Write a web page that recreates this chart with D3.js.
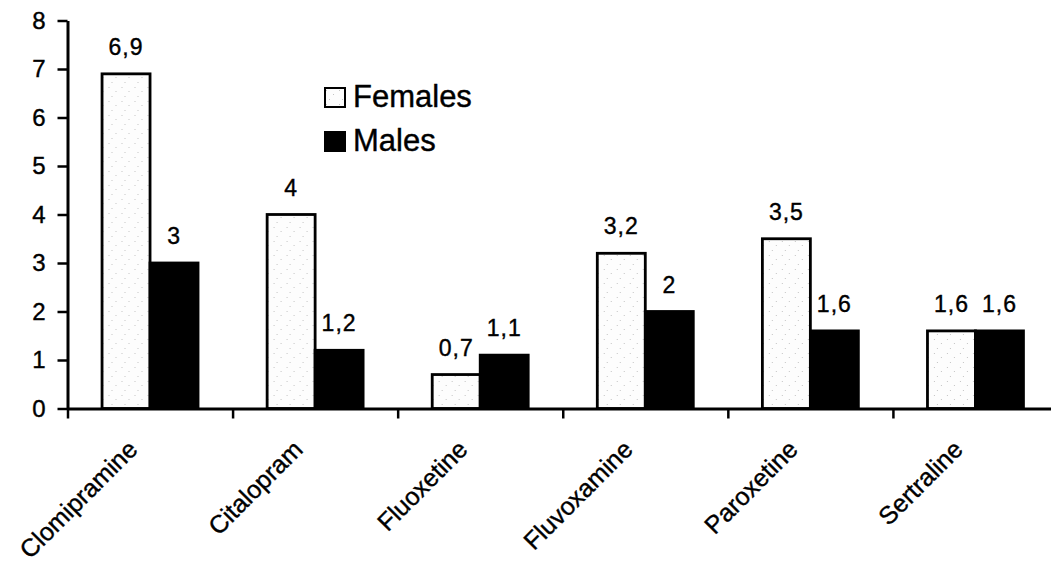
<!DOCTYPE html>
<html>
<head>
<meta charset="utf-8">
<script src="https://cdn.jsdelivr.net/npm/d3@7/dist/d3.min.js"></script>
<style>
  html, body { margin: 0; padding: 0; background: #fff; }
  svg { display: block; font-family: "Liberation Sans", Arial, sans-serif; }
  svg text { stroke: #000; stroke-width: 0.4px; }
</style>
</head>
<body>
<svg id="chart" width="1051" height="566"></svg>
<script>
// Drug names along the x axis
const drugs = ["Clomipramine", "Citalopram", "Fluoxetine", "Fluvoxamine", "Paroxetine", "Sertraline"];
// Series
const seriesNames = ["Females", "Males"];
const females = [6.9, 4, 0.7, 3.2, 3.5, 1.6];
const males   = [3, 1.2, 1.1, 2, 1.6, 1.6];
// Y axis ticks
const yTicks = [0, 1, 2, 3, 4, 5, 6, 7, 8];

const svg = d3.select("#chart");

// Light speckled fill used for the female bars
const defs = svg.append("defs");
const pat = defs.append("pattern")
  .attr("id", "speckle")
  .attr("patternUnits", "userSpaceOnUse")
  .attr("width", 13).attr("height", 14);
pat.append("rect").attr("width", 13).attr("height", 14).attr("fill", "#fdfdfd");
[[2, 3], [9, 7], [5, 12]].forEach(([cx, cy]) => {
  pat.append("rect").attr("x", cx).attr("y", cy).attr("width", 1).attr("height", 1)
    .attr("fill", "#c4c4c4");
});

const plotLeft = 67.5, plotRight = 1058, plotBottom = 408.5, plotTop = 20.5;

const y = d3.scaleLinear().domain([0, 8]).range([plotBottom, plotTop]);
const x0 = d3.scaleBand().domain(drugs).range([plotLeft, plotRight]).paddingInner(0).paddingOuter(0);
const x1 = d3.scaleBand().domain(seriesNames).range([0, x0.bandwidth()])
  .paddingInner(0).paddingOuter(0.72);
const xEdge = d3.scaleLinear().domain([0, drugs.length]).range([plotLeft, plotRight]);

const rows = drugs.map((d, i) => ({ drug: d, values: [
  { key: "Females", value: females[i] },
  { key: "Males", value: males[i] }
]}));

// Bars
const groups = svg.append("g").selectAll("g")
  .data(rows).join("g")
  .attr("transform", d => `translate(${x0(d.drug)},0)`);

groups.selectAll("rect")
  .data(d => d.values).join("rect")
  .attr("x", d => x1(d.key))
  .attr("y", d => y(d.value))
  .attr("width", x1.bandwidth())
  .attr("height", d => y(0) - y(d.value))
  .attr("fill", d => d.key === "Females" ? "url(#speckle)" : "#000")
  .attr("stroke", "#000")
  .attr("stroke-width", 2.8);

// Value labels
groups.selectAll("text")
  .data(d => d.values).join("text")
  .attr("x", d => x1(d.key) + x1.bandwidth() / 2)
  .attr("y", d => y(d.value) - 19)
  .attr("text-anchor", "middle")
  .attr("font-size", 23)
  .attr("letter-spacing", 1)
  .attr("fill", "#000")
  .text(d => String(d.value).replace(".", ","));

// Y axis
const yAxis = svg.append("g")
  .attr("transform", `translate(${plotLeft},0)`)
  .call(d3.axisLeft(y).tickValues(yTicks).tickSize(10).tickSizeOuter(0).tickPadding(12)
    .tickFormat(d3.format("d")));
yAxis.select(".domain").attr("stroke-width", 3);
yAxis.selectAll(".tick line").attr("stroke-width", 2.5);
yAxis.selectAll(".tick text").attr("font-size", 24).attr("font-family", "Liberation Sans, Arial, sans-serif").attr("fill", "#000");

// X axis with ticks at the category boundaries
const xAxis = svg.append("g")
  .attr("transform", `translate(0,${plotBottom})`)
  .call(d3.axisBottom(xEdge).tickValues(d3.range(0, drugs.length)).tickSize(10)
    .tickSizeOuter(0).tickFormat(""));
xAxis.select(".domain").attr("stroke-width", 3);
xAxis.selectAll(".tick line").attr("stroke-width", 2.5);

// Rotated category labels
svg.append("g").selectAll("text")
  .data(drugs).join("text")
  .attr("transform", d => `translate(${x0(d) + x0.bandwidth() / 2 - 11},451) rotate(-45)`)
  .attr("text-anchor", "end")
  .attr("font-size", 25)
  .attr("fill", "#000")
  .text(d => d);

// Legend
const legend = svg.append("g").attr("transform", "translate(324,87)");
seriesNames.forEach((name, i) => {
  const g = legend.append("g").attr("transform", `translate(0,${i * 44})`);
  g.append("rect")
    .attr("x", 1).attr("y", 1).attr("width", 20).attr("height", 19)
    .attr("fill", name === "Females" ? "url(#speckle)" : "#000")
    .attr("stroke", "#000").attr("stroke-width", 2);
  g.append("text")
    .attr("x", 29).attr("y", 20)
    .attr("font-size", 31)
    .attr("fill", "#000")
    .text(name);
});
</script>
</body>
</html>
